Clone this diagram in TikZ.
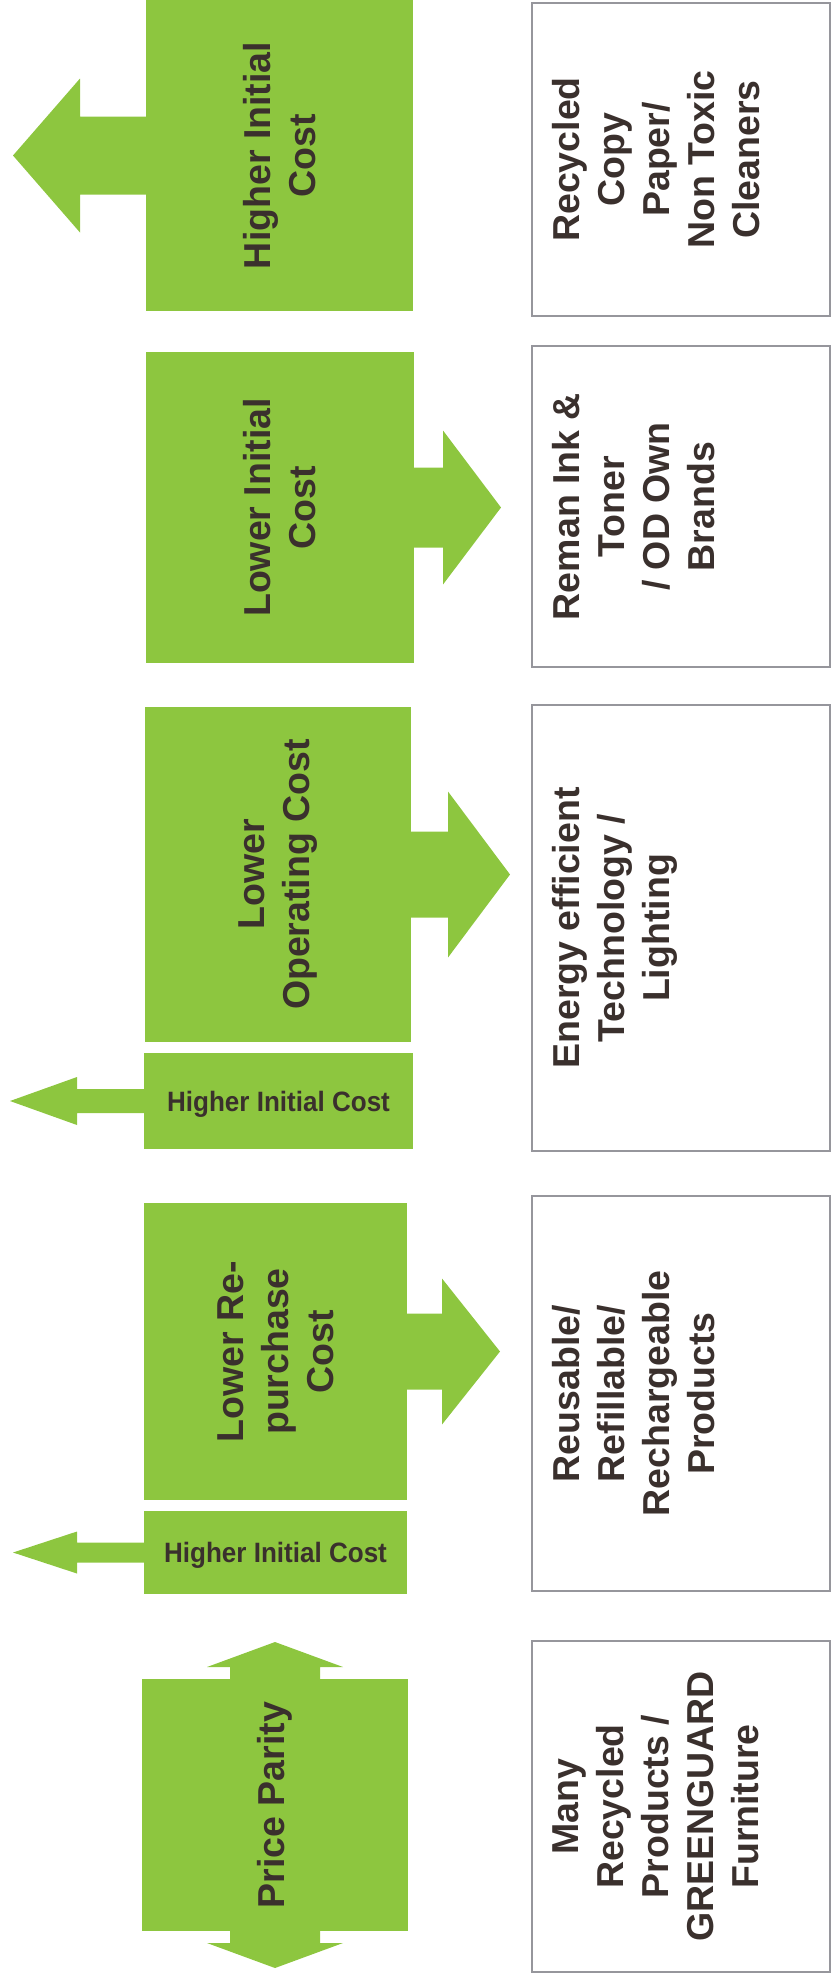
\documentclass[tikz,border=0pt]{standalone}
\usepackage{fontspec}
\setmainfont{Liberation Sans}
\usepackage{xcolor}
\definecolor{leaf}{RGB}{141,198,63}
\definecolor{ink}{RGB}{58,48,45}
\definecolor{frame}{RGB}{150,150,156}
\usetikzlibrary{calc}
\tikzset{
  gbox/.style={fill=leaf,inner sep=0pt,outer sep=0pt},
  wbox/.style={draw=frame,line width=2pt,fill=white,inner sep=0pt,outer sep=0pt},
  vtext/.style={rotate=90,align=center,text=ink,inner sep=0pt,%
    font=\fontsize{37.5pt}{45pt}\selectfont\bfseries},
  htext/.style={text=ink,inner sep=0pt,text depth=0pt,xscale=0.93,%
    font=\fontsize{28pt}{32pt}\selectfont\bfseries},
  blk/.style={fill=leaf},
}

\begin{document}
\begin{tikzpicture}[x=1pt,y=-1pt]
\useasboundingbox (0,0) rectangle (832,1984);
\node[gbox,minimum width=267pt,minimum height=311pt] (hic) at (279.5,155.5) {};
\node[gbox,minimum width=268pt,minimum height=311pt] (lic) at (280,507.5) {};
\node[gbox,minimum width=266pt,minimum height=335pt] (loc) at (278,874.5) {};
\node[gbox,minimum width=269pt,minimum height=96pt]  (hic2) at (278.5,1101) {};
\node[gbox,minimum width=263pt,minimum height=297pt] (lrc) at (275.5,1351.5) {};
\node[gbox,minimum width=263pt,minimum height=83pt]  (hic3) at (275.5,1552.5) {};
\node[gbox,minimum width=266pt,minimum height=252pt] (pp) at (275,1805) {};
\node[vtext] (hic-t) at (hic) {Higher Initial\\Cost};
\node[vtext] (lic-t) at (lic) {Lower Initial\\Cost};
\node[vtext] (loc-t) at (loc) {Lower\\Operating Cost};
\node[htext] (hic2-t) at (hic2) {Higher Initial Cost};
\node[vtext] (lrc-t) at (lrc) {Lower Re-\\purchase\\Cost};
\node[htext] (hic3-t) at (hic3) {Higher Initial Cost};
\node[vtext] (pp-t) at (pp) {Price Parity};
\fill[blk] ($(hic.west)+(1,-39)$) -- ++(-67,0) -- ++(0,-38) -- ++(-67,77) -- ++(67,77) -- ++(0,-38) -- ++(67,0) -- cycle;
\fill[blk] ($(lic.east)+(-1,-40)$) -- ++(30,0) -- ++(0,-37) -- ++(58,77) -- ++(-58,77) -- ++(0,-37) -- ++(-30,0) -- cycle;
\fill[blk] ($(loc.east)+(-1,-43)$) -- ++(38,0) -- ++(0,-40) -- ++(62,83) -- ++(-62,83) -- ++(0,-40) -- ++(-38,0) -- cycle;
\fill[blk] ($(hic2.west)+(1,-12)$) -- ++(-68,0) -- ++(0,-12) -- ++(-67,24) -- ++(67,24) -- ++(0,-12) -- ++(68,0) -- cycle;
\fill[blk] ($(lrc.east)+(-1,-38)$) -- ++(36,0) -- ++(0,-35) -- ++(58,73) -- ++(-58,73) -- ++(0,-35) -- ++(-36,0) -- cycle;
\fill[blk] ($(hic3.west)+(1,-10)$) -- ++(-68,0) -- ++(0,-11) -- ++(-64,21) -- ++(64,21) -- ++(0,-11) -- ++(68,0) -- cycle;
\fill[blk] ($(pp.north)+(-45,1)$) -- ++(0,-13) -- ++(-23,0) -- ++(68,-25) -- ++(68,25) -- ++(-23,0) -- ++(0,13) -- cycle;
\fill[blk] ($(pp.south)+(-45,-1)$) -- ++(0,13) -- ++(-23,0) -- ++(68,25) -- ++(68,-25) -- ++(-23,0) -- ++(0,-13) -- cycle;
\node[wbox,minimum width=298pt,minimum height=313pt] (rcp) at (681,159.5) {};
\node[wbox,minimum width=298pt,minimum height=321pt] (rit) at (681,506.5) {};
\node[wbox,minimum width=298pt,minimum height=446pt] (eet) at (681,928) {};
\node[wbox,minimum width=298pt,minimum height=395pt] (rrp) at (681,1393.5) {};
\node[wbox,minimum width=298pt,minimum height=331pt] (mrp) at (681,1806.5) {};
\node[vtext,anchor=north] (rcp-t) at (552,159.5) {Recycled\\Copy\\Paper/\\Non Toxic\\Cleaners};
\node[vtext,anchor=north] (rit-t) at (552,506.5) {Reman Ink \&\\Toner\\/ OD Own\\Brands};
\node[vtext,anchor=north] (eet-t) at (552,928) {Energy efficient\\Technology /\\Lighting};
\node[vtext,anchor=north] (rrp-t) at (552,1393.5) {Reusable/\\Refillable/\\Rechargeable\\Products};
\node[vtext,anchor=north] (mrp-t) at (552,1806.5) {Many\\Recycled\\Products /\\GREENGUARD\\Furniture};
\end{tikzpicture}
\end{document}
